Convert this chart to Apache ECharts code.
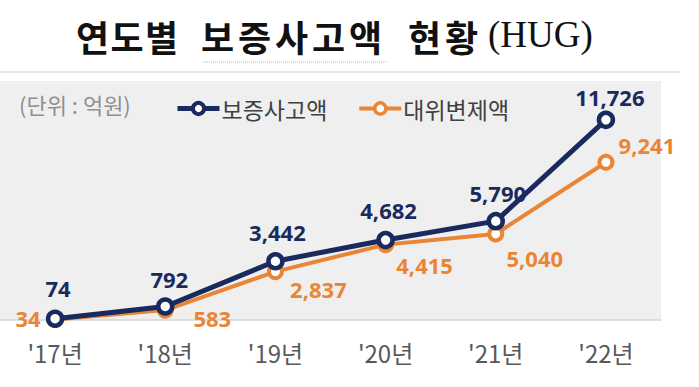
<!DOCTYPE html>
<html>
<head>
<meta charset="utf-8">
<script src="https://cdn.jsdelivr.net/npm/echarts@6/dist/echarts.min.js"></script>
<style>
html,body{margin:0;padding:0;background:#fff;}
#c{width:699px;height:387px;}
#c text{font-kerning:none;}
</style>
</head>
<body>
<div id="c"></div>
<script>
const categories = ["'17년", "'18년", "'19년", "'20년", "'21년", "'22년"];
const seriesNames = ['보증사고액', '대위변제액'];
const accidentValues = [74, 792, 3442, 4682, 5790, 11726];
const subrogationValues = [34, 583, 2837, 4415, 5040, 9241];
const titleParts = ['연도별', '보증사고액', '현황', '(HUG)'];
const unitText = '(단위 : 억원)';

// style-only layout helpers
const titleWordStarts = [77, 202, 409];
const titleCharSteps = [34.5, 37, 37];
const accidentOffsets = [[3,-31],[4,-27],[2,-29],[3,-30],[2,-28],[4,-23]];
const subrogationOffsets = [[-27,-1],[47,8],[43,17],[39,20],[39,24],[41,-17]];

const NAVY = '#1a2a5e';
const ORANGE = '#ea8535';

function buildData(vals, offs) {
  return vals.map((v, i) => ({ value: v, label: { offset: offs[i] } }));
}
const fmt = p => p.value.toLocaleString('en-US');

const graphics = [];
titleParts.slice(0, 3).forEach((word, wi) => {
  Array.from(word).forEach((ch, ci) => {
    graphics.push({
      type: 'text', left: titleWordStarts[wi] + ci * titleCharSteps[wi] - 1, top: 18,
      style: { text: ch, fontSize: 36, fontWeight: 'bold', fontFamily: '"Noto Sans CJK KR"', fill: '#111' }
    });
  });
});
graphics.push(
  { type: 'text', left: 488, top: 16, style: { text: titleParts[3], fontSize: 37, fontFamily: '"Liberation Serif"', fill: '#111' } },
  { type: 'line', shape: { x1: 203, y1: 62, x2: 387, y2: 62 }, style: { stroke: '#d9b07e', lineWidth: 1, lineDash: [1, 1] } },
  { type: 'line', shape: { x1: 0, y1: 72, x2: 680, y2: 72 }, style: { stroke: '#e8e8e8', lineWidth: 2 } },
  { type: 'text', left: 19, top: 93, z: 10, style: { text: unitText, fontSize: 22, fontFamily: '"Noto Sans CJK KR"', fill: '#8f8f8f' } }
);

const chart = echarts.init(document.getElementById('c'), null, {renderer: 'svg'});
chart.setOption({
  animation: false,
  backgroundColor: '#ffffff',
  graphic: graphics,
  legend: {
    left: 170, top: 92,
    itemWidth: 42, itemHeight: 14, itemGap: 30,
    textStyle: { fontSize: 23, color: '#404040', fontFamily: '"Noto Sans CJK KR"', padding: [0,0,0,-3] },
    data: [
      { name: seriesNames[0], lineStyle: { width: 5, color: NAVY }, itemStyle: { color: '#fff', borderColor: NAVY, borderWidth: 4 } },
      { name: seriesNames[1], lineStyle: { width: 4, color: ORANGE }, itemStyle: { color: '#fff', borderColor: ORANGE, borderWidth: 3.5 } }
    ]
  },
  grid: {
    left: 0, right: 38, top: 81, bottom: 67,
    show: true, backgroundColor: '#efefef', borderWidth: 0
  },
  xAxis: {
    type: 'category',
    data: categories,
    axisLine: { lineStyle: { color: '#d6d6d6', width: 1.5 } },
    axisTick: { show: false },
    axisLabel: { fontSize: 24, color: '#595959', margin: 20, fontFamily: '"Noto Sans CJK KR"' }
  },
  yAxis: { type: 'value', min: 0, max: 14000, show: false, splitLine: { show: false } },
  series: [
    {
      name: seriesNames[1], type: 'line', z: 2,
      data: buildData(subrogationValues, subrogationOffsets),
      symbol: 'circle', symbolSize: 13,
      lineStyle: { color: ORANGE, width: 4 },
      itemStyle: { color: '#fff', borderColor: ORANGE, borderWidth: 4 },
      label: { show: true, position: 'inside', formatter: fmt, color: ORANGE, fontSize: 22, fontWeight: 'bold', fontFamily: '"Open Sans"' }
    },
    {
      name: seriesNames[0], type: 'line', z: 3,
      data: buildData(accidentValues, accidentOffsets),
      symbol: 'circle', symbolSize: 14,
      lineStyle: { color: NAVY, width: 5 },
      itemStyle: { color: '#fff', borderColor: NAVY, borderWidth: 4.5 },
      label: { show: true, position: 'inside', formatter: fmt, color: NAVY, fontSize: 22, fontWeight: 'bold', fontFamily: '"Open Sans"' }
    }
  ]
});
</script>
</body>
</html>
